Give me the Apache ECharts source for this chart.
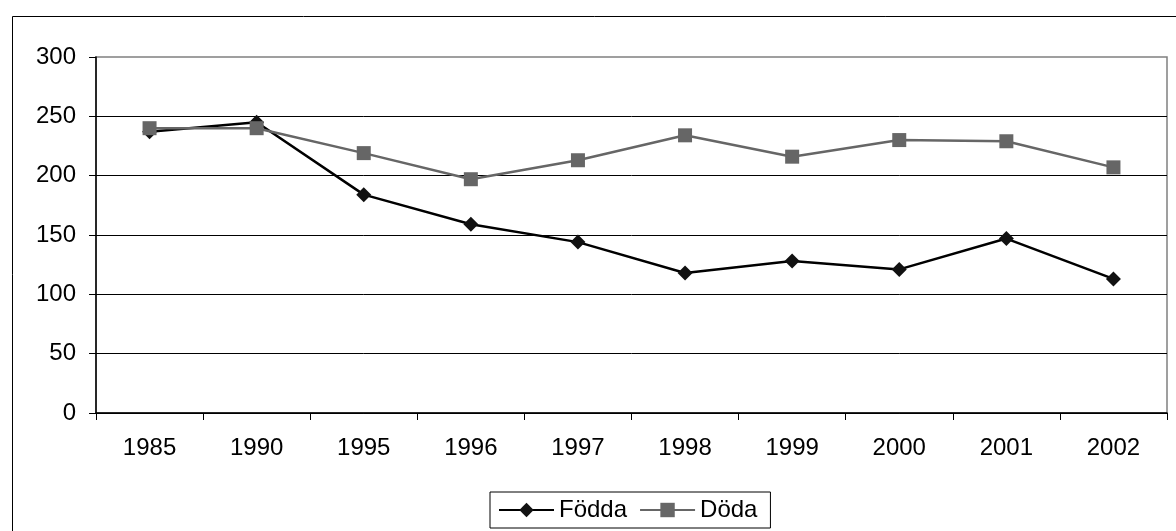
<!DOCTYPE html>
<html>
<head>
<meta charset="utf-8">
<script src="https://cdn.jsdelivr.net/npm/echarts@6/dist/echarts.min.js"></script>
<style>
html,body{margin:0;padding:0;background:#fff;}
#c{width:1176px;height:531px;}
</style>
</head>
<body>
<div id="c"></div>
<script>
const categories = ['1985','1990','1995','1996','1997','1998','1999','2000','2001','2002'];
const fodda = [237, 245, 184, 159, 144, 118, 128, 121, 147, 113];
const doda = [240, 240, 219, 197, 213, 234, 216, 230, 229, 207];
const yTicks = {min: 0, max: 300, interval: 50};

const chart = echarts.init(document.getElementById('c'), null, {renderer: 'canvas'});
const font = '"Liberation Sans", Arial, sans-serif';
chart.setOption({
  animation: false,
  backgroundColor: '#fff',
  textStyle: {fontFamily: font},
  graphic: [{
    type: 'rect', left: 10, top: 14, z: -10,
    shape: {width: 1200, height: 600},
    style: {fill: 'none', stroke: '#000', lineWidth: 1}
  }],
  grid: {left: 96, top: 57, right: 9, bottom: 118, show: true, borderColor: '#808080', borderWidth: 1.5},
  xAxis: {
    type: 'category', data: categories, boundaryGap: true,
    axisLine: {lineStyle: {color: '#000', width: 1.5}},
    axisTick: {show: true, interval: 0, length: 7, lineStyle: {color: '#000'}},
    axisLabel: {color: '#000', fontSize: 24, fontFamily: font, margin: 23}
  },
  yAxis: {
    type: 'value', min: yTicks.min, max: yTicks.max, interval: yTicks.interval,
    axisLine: {show: true, lineStyle: {color: '#000', width: 1.5}},
    axisTick: {show: true, length: 7, lineStyle: {color: '#000'}},
    axisLabel: {color: '#000', fontSize: 24, fontFamily: font, margin: 20},
    splitLine: {show: true, showMaxLine: false, lineStyle: {color: '#000', width: 1}}
  },
  legend: {
    left: 490, top: 492, itemGap: 12,
    padding: [6, 13, 6, 8],
    borderColor: '#000', borderWidth: 1, backgroundColor: '#fff',
    itemWidth: 55, itemHeight: 18,
    textStyle: {color: '#000', fontSize: 24, fontFamily: font},
    data: ['Födda', 'Döda']
  },
  series: [
    {
      name: 'Födda', type: 'line', data: fodda,
      symbol: 'diamond', symbolSize: 15,
      lineStyle: {color: '#000', width: 2.5},
      itemStyle: {color: '#111'}, z: 3
    },
    {
      name: 'Döda', type: 'line', data: doda,
      symbol: 'rect', symbolSize: 14,
      lineStyle: {color: '#666', width: 2.5},
      itemStyle: {color: '#666'}, z: 4
    }
  ]
});
</script>
</body>
</html>
